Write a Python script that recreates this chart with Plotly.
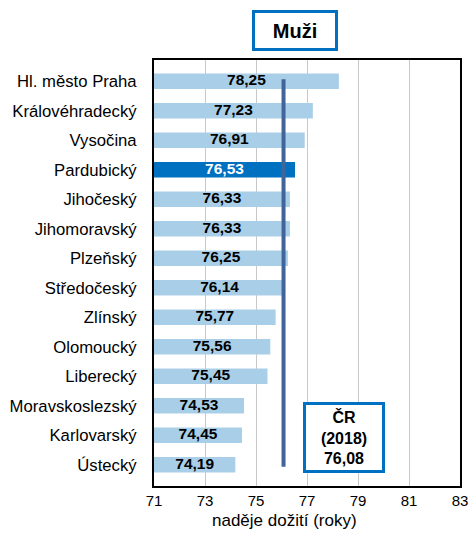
import plotly.graph_objects as go

regions = ["Hl. město Praha", "Královéhradecký", "Vysočina", "Pardubický", "Jihočeský",
           "Jihomoravský", "Plzeňský", "Středočeský", "Zlínský", "Olomoucký", "Liberecký",
           "Moravskoslezský", "Karlovarský", "Ústecký"]
values = [78.25, 77.23, 76.91, 76.53, 76.33, 76.33, 76.25, 76.14, 75.77, 75.56, 75.45,
          74.53, 74.45, 74.19]
highlight = "Pardubický"
cr_value = 76.08
cr_year = 2018
x_ticks = [71, 73, 75, 77, 79, 81, 83]
x_title = "naděje dožití (roky)"
base = 71

FONT = "Liberation Sans, Arial, sans-serif"
light = "#a9cfe8"
dark = "#0070c0"

colors = [dark if r == highlight else light for r in regions]
txtcolors = ["white" if r == highlight else "black" for r in regions]
labels = ["<b>" + f"{v:.2f}".replace(".", ",") + "</b>" for v in values]

fig = go.Figure()
fig.add_trace(go.Bar(
    y=regions, x=[v - base for v in values], base=base, orientation="h",
    marker=dict(color=colors, line=dict(width=0)),
    textposition="none", hoverinfo="skip",
))
fig.add_trace(go.Scatter(
    y=regions, x=[(base + v) / 2 for v in values], mode="text",
    text=labels, textposition="middle center",
    textfont=dict(family=FONT, size=15.5, color=txtcolors),
    hoverinfo="skip", cliponaxis=False,
))

fig.add_shape(type="line", xref="x", yref="y", x0=cr_value, x1=cr_value,
              y0=-0.07, y1=13.07, line=dict(color="#41659a", width=4), layer="above")

fig.add_annotation(xref="paper", yref="paper", x=0.461, y=1.070,
                   text="<b>Muži</b>", showarrow=False,
                   font=dict(family=FONT, size=20, color="black"),
                   width=80, height=35, bordercolor=dark, borderwidth=3, borderpad=0,
                   bgcolor="white", xanchor="center", yanchor="middle")

cr_text = "<b>ČR<br>(" + str(cr_year) + ")<br>" + f"{cr_value:.2f}".replace(".", ",") + "</b>"
fig.add_annotation(xref="paper", yref="paper", x=0.621, y=0.114,
                   text=cr_text, showarrow=False,
                   font=dict(family=FONT, size=16, color="black"),
                   width=76, height=65, bordercolor=dark, borderwidth=3, borderpad=0,
                   bgcolor="white", xanchor="center", yanchor="middle")

fig.add_annotation(xref="paper", yref="paper", x=0.428, y=-0.081,
                   text=x_title, showarrow=False,
                   font=dict(family=FONT, size=17, color="black"),
                   xanchor="center", yanchor="middle")

fig.update_layout(
    width=470, height=538,
    margin=dict(l=154, r=10, t=60, b=52, autoexpand=False),
    paper_bgcolor="white", plot_bgcolor="white",
    bargap=0.475, showlegend=False,
    font=dict(family=FONT, size=14, color="black"),
    xaxis=dict(range=[71, 83], tickvals=x_ticks, ticktext=[str(t) for t in x_ticks],
               showgrid=True, gridcolor="#c8c8c8", gridwidth=1,
               showline=True, linecolor="black", linewidth=2, mirror=True,
               zeroline=False, ticks="", tickfont=dict(family=FONT, size=15),
               automargin=False),
    yaxis=dict(autorange="reversed", showline=True, linecolor="black", linewidth=2,
               mirror=True, ticks="", tickfont=dict(family=FONT, size=16.7),
               automargin=False,
               ticklabelstandoff=12, showgrid=False),
)

fig.write_html("out.html", config={"displayModeBar": False},
               post_script="document.body.style.margin='0';document.body.style.padding='0';")
